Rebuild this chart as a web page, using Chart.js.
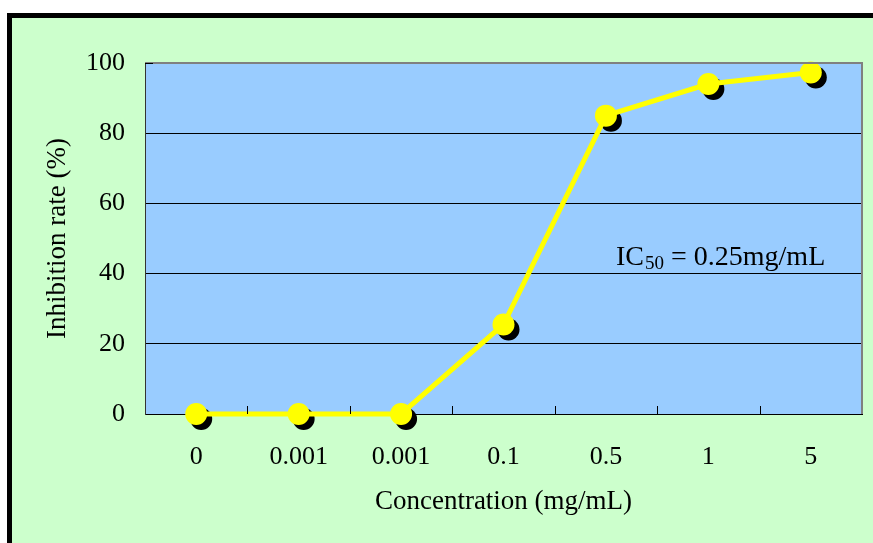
<!DOCTYPE html>
<html>
<head>
<meta charset="utf-8">
<script src="https://cdn.jsdelivr.net/npm/chart.js@4/dist/chart.umd.min.js"></script>
<style>
  html, body { margin: 0; padding: 0; background: #fff; }
  #wrap { width: 873px; height: 543px; }
</style>
</head>
<body>
<div id="wrap"><canvas id="chart" width="873" height="543"></canvas></div>
<script>
// concentration categories (mg/mL) and inhibition rate (%)
var concLabels = ['0', '0.001', '0.001', '0.1', '0.5', '1', '5'];
var inhibition = [0, 0, 0, 25.5, 85, 94, 97.3];
var yTicks = [0, 20, 40, 60, 80, 100];

var serif = "'Liberation Serif', 'Times New Roman', serif";

// green panel, plot background, borders, inner ticks, IC50 note
var decor = {
  id: 'decor',
  beforeDraw: function(chart) {
    var ctx = chart.ctx;
    var a = chart.chartArea;
    ctx.save();
    ctx.fillStyle = '#fff';
    ctx.fillRect(0, 0, chart.width, chart.height);
    ctx.fillStyle = '#000';
    ctx.fillRect(7, 13, chart.width - 7, chart.height - 13);
    ctx.fillStyle = '#CCFFCC';
    ctx.fillRect(12, 18, chart.width - 12, chart.height - 18);
    ctx.fillStyle = '#99CCFF';
    ctx.fillRect(a.left, a.top, a.right - a.left, a.bottom - a.top);
    ctx.restore();
  },
  afterDraw: function(chart) {
    var ctx = chart.ctx;
    var a = chart.chartArea;
    var x = chart.scales.x;
    ctx.save();
    // grey frame top/right
    ctx.strokeStyle = '#808080';
    ctx.lineWidth = 2;
    ctx.beginPath();
    ctx.moveTo(a.left, a.top);
    ctx.lineTo(a.right, a.top);
    ctx.lineTo(a.right, a.bottom);
    ctx.stroke();
    // small inside ticks on x axis between categories
    ctx.strokeStyle = '#000';
    ctx.lineWidth = 1;
    ctx.beginPath();
    for (var i = 1; i < concLabels.length; i++) {
      var px = Math.round((x.getPixelForValue(i - 1) + x.getPixelForValue(i)) / 2) + 0.5;
      ctx.moveTo(px, a.bottom);
      ctx.lineTo(px, a.bottom - 8);
    }
    ctx.moveTo(a.left, a.top + 0.5);
    ctx.lineTo(a.left + 8, a.top + 0.5);
    ctx.stroke();

    // IC50 note
    var tx = a.left + 471;
    var ty = a.top + 202;
    ctx.fillStyle = '#000';
    ctx.textBaseline = 'alphabetic';
    ctx.font = '28px ' + serif;
    ctx.fillText('IC', tx, ty);
    tx += ctx.measureText('IC').width + 1;
    ctx.font = '19px ' + serif;
    ctx.fillText('50', tx, ty + 4);
    tx += ctx.measureText('50').width;
    ctx.font = '28px ' + serif;
    ctx.fillText(' = 0.25mg/mL', tx, ty);
    ctx.restore();
  },
  beforeDatasetDraw: function(chart, args) {
    if (chart.data.datasets[args.index].shadow) {
      chart.ctx.save();
      chart.ctx.translate(5, 5);
    }
  },
  afterDatasetDraw: function(chart, args) {
    if (chart.data.datasets[args.index].shadow) {
      chart.ctx.restore();
    }
  }
};

new Chart(document.getElementById('chart'), {
  type: 'line',
  data: {
    labels: concLabels,
    datasets: [
      {
        label: 'Inhibition rate',
        data: inhibition,
        borderColor: '#FFFF00',
        borderWidth: 5,
        backgroundColor: '#FFFF00',
        pointBackgroundColor: '#FFFF00',
        pointBorderWidth: 0,
        pointRadius: 11,
        tension: 0,
        clip: false,
        order: 0
      },
      {
        label: 'shadow',
        shadow: true,
        data: inhibition,
        showLine: false,
        pointBackgroundColor: '#000',
        pointBorderWidth: 0,
        pointRadius: 11,
        clip: false,
        order: 1
      }
    ]
  },
  options: {
    responsive: false,
    animation: false,
    events: [],
    layout: { padding: { top: 63, right: 9, bottom: 0, left: 0 } },
    plugins: {
      legend: { display: false },
      tooltip: { enabled: false }
    },
    scales: {
      x: {
        offset: true,
        grid: { display: false, drawTicks: false },
        border: { display: true, color: '#000', width: 1 },
        ticks: {
          color: '#000',
          padding: 28,
          maxRotation: 0,
          font: { family: serif, size: 26 }
        },
        title: {
          display: true,
          text: 'Concentration (mg/mL)',
          color: '#000',
          font: { family: serif, size: 27 },
          padding: { top: 0, bottom: 25 }
        },
        afterFit: function(scale) { scale.height = 129; }
      },
      y: {
        min: 0,
        max: 100,
        afterBuildTicks: function(scale) {
          scale.ticks = yTicks.map(function(v) { return { value: v }; });
        },
        grid: { color: '#000', lineWidth: 1, drawTicks: false },
        border: { display: true, color: '#333', width: 1 },
        ticks: {
          color: '#000',
          padding: 20,
          font: { family: serif, size: 26 }
        },
        title: {
          display: true,
          text: 'Inhibition rate (%)',
          color: '#000',
          font: { family: serif, size: 27 },
          padding: { top: 42, bottom: 0 }
        },
        afterFit: function(scale) { scale.width = 145; }
      }
    }
  },
  plugins: [decor]
});
</script>
</body>
</html>
